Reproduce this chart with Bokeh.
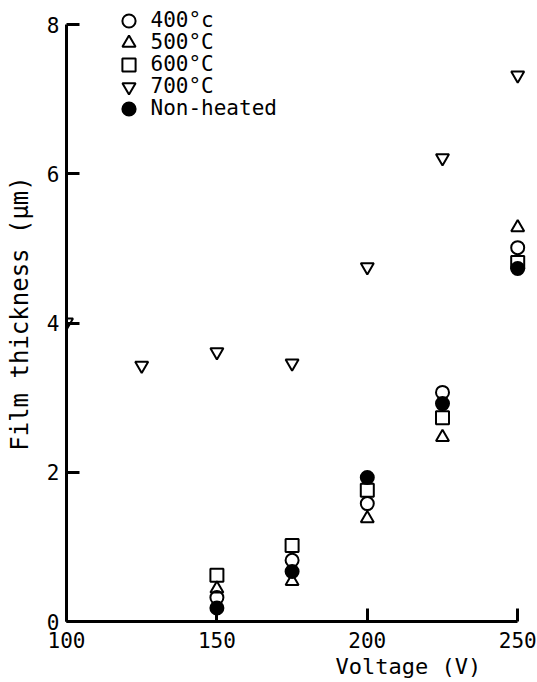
from bokeh.plotting import figure
from bokeh.models import Range1d, FixedTicker, Legend, LegendItem, Title
from bokeh.embed import file_html
from bokeh.resources import INLINE

# ---- data ----
voltage = [150, 175, 200, 225, 250]
voltage_700 = [100, 125, 150, 175, 200, 225, 250]
t400 = [0.32, 0.82, 1.58, 3.07, 5.01]
t500 = [0.44, 0.54, 1.38, 2.47, 5.28]
t600 = [0.62, 1.02, 1.76, 2.73, 4.81]
t700 = [4.01, 3.43, 3.61, 3.46, 4.75, 6.21, 7.32]
t_non = [0.18, 0.67, 1.93, 2.92, 4.73]
x_ticks = [100, 150, 200, 250]
y_ticks = [0, 2, 4, 6, 8]
labels = ["400°c", "500°C", "600°C", "700°C", "Non-heated"]

FONT = "DejaVu Sans Mono"
W, H = 537, 682
L, T, B = 66, 5, 61
FW = W - L
FH = H - T - B
x_end = 100 + FW / 3.008
y_end = 8 + 19 / 74.625

p = figure(width=W, height=H, output_backend="svg", toolbar_location=None,
           x_range=Range1d(100, x_end), y_range=Range1d(0, y_end),
           min_border_left=L, min_border_right=0, min_border_top=T,
           min_border_bottom=B, background_fill_color="white")
p.grid.visible = False
p.outline_line_color = None

common = dict(size=13, line_color="black", line_width=2)
r700 = p.scatter(voltage_700, t700, marker="inverted_triangle", fill_color=None, **common)
r500 = p.scatter(voltage, t500, marker="triangle", fill_color=None, **common)
r600 = p.scatter(voltage, t600, marker="square", fill_color=None, **common)
r400 = p.scatter(voltage, t400, marker="circle", fill_color=None, **common)
rnon = p.scatter(voltage, t_non, marker="circle", fill_color="black", **common)

for ax in (p.xaxis[0], p.yaxis[0]):
    ax.axis_line_width = 3
    ax.axis_line_color = "black"
    ax.major_tick_in = 13
    ax.major_tick_out = 0
    ax.major_tick_line_width = 3
    ax.major_tick_line_color = "black"
    ax.minor_tick_line_color = None
    ax.major_label_text_font = FONT
    ax.major_label_text_font_size = "21px"
    ax.major_label_text_color = "black"

p.xaxis.ticker = FixedTicker(ticks=x_ticks)
p.xaxis.bounds = (100, 250)
p.xaxis.major_label_standoff = 10

p.yaxis.ticker = FixedTicker(ticks=y_ticks)
p.yaxis.bounds = (0, 8)
p.yaxis.major_label_standoff = 7
p.yaxis.axis_label = "Film thickness (μm)"
p.yaxis.axis_label_text_font = FONT
p.yaxis.axis_label_text_font_size = "24px"
p.yaxis.axis_label_text_font_style = "normal"
p.yaxis.axis_label_text_color = "black"
p.yaxis.axis_label_standoff = 10

xt = Title(text="Voltage (V)", align="left", offset=269, standoff=2,
           text_font=FONT, text_font_size="22px", text_font_style="normal",
           text_color="black")
p.add_layout(xt, "below")

G = 33
for i, (lab, r) in enumerate(zip(labels, [r400, r500, r600, r700, rnon])):
    c = 15 + 22 * i
    leg = Legend(items=[LegendItem(label=lab, renderers=[r])],
                 location=(62 - G / 2, FH - c - G / 2),
                 glyph_width=G, glyph_height=G, label_height=G,
                 label_standoff=6, padding=0, margin=0, spacing=0,
                 border_line_color=None, background_fill_alpha=0,
                 label_text_font=FONT, label_text_font_size="21px",
                 label_text_color="black")
    p.add_layout(leg)

open("out.html", "w").write(file_html(p, INLINE))
